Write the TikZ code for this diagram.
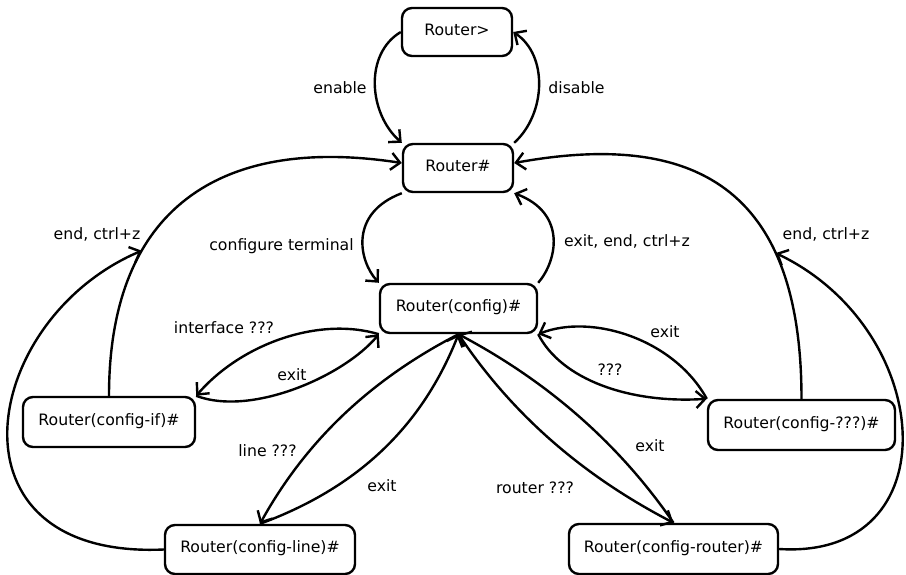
\documentclass[tikz,border=0pt]{standalone}
\usepackage{fontspec}
\setmainfont{DejaVu Sans}
\usetikzlibrary{arrows.meta}
\begin{document}
\begin{tikzpicture}[x=1pt,y=-1pt,
  every node/.style={font=\fontsize{15.7}{19}\selectfont},
  state/.style={draw, line width=2.4pt, rounded corners=10pt, minimum height=48pt,
    inner sep=0pt, text height=0.8em, text depth=0.2em},
  lbl/.style={anchor=base, inner sep=0pt},
  wire/.style={line width=2.4pt},
  link/.style={wire, -{Straight Barb[length=9pt,width=17pt]}}]

\useasboundingbox (0,0) rectangle (906,574);

% states
\node[state, minimum width=110pt] (rg)  at (457,32)      {Router>};
\node[state, minimum width=110pt] (rh)  at (458,168)     {Router\#};
\node[state, minimum width=157pt, minimum height=49pt] (cfg) at (458.5,308.5) {Router(config)\#};
\node[state, minimum width=172pt, minimum height=50pt] (ifn) at (109,422)     {Router(config-if)\#};
\node[state, minimum width=187pt, minimum height=50pt] (qq)  at (801.5,425)   {Router(config-???)\#};
\node[state, minimum width=190pt, minimum height=49pt] (ln)  at (260,549.5)   {Router(config-line)\#};
\node[state, minimum width=209pt, minimum height=50pt] (rt)  at (673.5,549)   {Router(config-router)\#};

% user mode <-> privileged mode
\draw[link] (rg.west) .. controls +(-37,22) and +(-33,-29) .. (rh.north west);
\draw[link] (rh.north east) .. controls +(32,-29) and +(35,23) .. (rg.east);
\node[lbl] (l-en)  at (340,93)  {enable};
\node[lbl] (l-dis) at (576.5,93) {disable};

% privileged mode <-> global config
\draw[link] (rh.south west) .. controls +(-53,20) and +(-20,-22) .. (cfg.north west);
\draw[link] (cfg.north east) .. controls +(19,-22) and +(53,20) .. (rh.south east);
\node[lbl] (l-ct) at (281.5,250) {configure terminal};
\node[lbl] (l-ee) at (627,246)   {exit, end, ctrl+z};

% end / ctrl+z from the sub-modes back to privileged mode
\draw[link] (ifn.north) .. controls +(0,-187) and +(-182,-28) .. ([yshift=5pt]rh.west)
  coordinate[pos=0.32] (jl);
\draw[link] (qq.north) .. controls +(0,-200) and +(192,-35) .. ([yshift=5pt]rh.east)
  coordinate[pos=0.3] (jr);
\draw[link] (ln.west) .. controls +(-225,10) and +(-162,69) .. (jl);
\draw[link] (rt.east) .. controls +(172,11) and +(161,77) .. (jr);
\node[lbl] (l-el) at (97,239)  {end, ctrl+z};
\node[lbl] (l-er) at (826,239) {end, ctrl+z};

% interface mode
\draw[link] (cfg.south west) .. controls +(-60,-18) and +(45,-52) .. (ifn.north east);
\draw[link] (ifn.north east) .. controls +(55,21) and +(-35,42) .. (cfg.south west);
\node[lbl] (l-if) at (224,333) {interface ???};
\node[lbl] (l-x1) at (292,380) {exit};

% other sub-mode
\draw[link] (cfg.south east) .. controls +(23,45) and +(-78,5) .. (qq.north west);
\draw[link] (qq.north west) .. controls +(-33,-60) and +(53,-21) .. (cfg.south east);
\node[lbl] (l-q)  at (610,375) {???};
\node[lbl] (l-x2) at (665,337) {exit};

% line mode
\draw[link] (cfg.south) .. controls +(-85.5,44) and +(47,-85) .. (ln.north);
\draw[link] (ln.north) .. controls +(95,-35) and +(-37.5,95) .. (cfg.south);
\node[lbl] (l-ln) at (267.5,456) {line ???};
\node[lbl] (l-x3) at (382,491)   {exit};

% router mode
\draw[link] (cfg.south) .. controls +(54.5,82) and +(-88.5,-46) .. (rt.north);
\draw[link] (rt.north) .. controls +(-56.5,-82) and +(86.5,46) .. (cfg.south);
\node[lbl] (l-rt) at (535,493) {router ???};
\node[lbl] (l-x4) at (650,451) {exit};

\end{tikzpicture}
\end{document}
